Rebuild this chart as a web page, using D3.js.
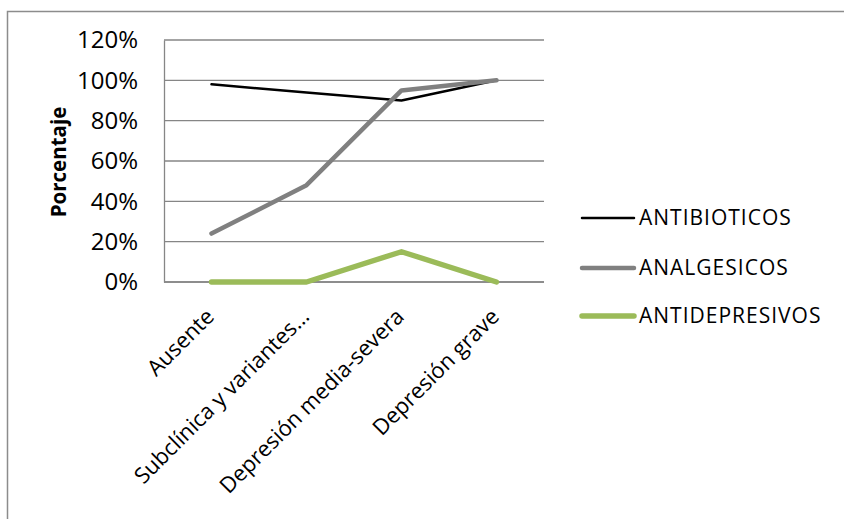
<!DOCTYPE html>
<html>
<head>
<meta charset="utf-8">
<script src="https://cdn.jsdelivr.net/npm/d3@7"></script>
<style>
  html, body { margin: 0; padding: 0; background: #fff; }
  svg { display: block; font-family: "Open Sans", sans-serif; }
</style>
</head>
<body>
<svg id="chart" width="844" height="519"></svg>
<script>
// Categories of depression level
const categories = ["Ausente", "Subclínica y variantes…", "Depresión media-severa", "Depresión grave"];
// Share of patients using each drug group (fraction)
const antibioticos = [0.98, 0.94, 0.90, 1.00];
const analgesicos = [0.24, 0.48, 0.95, 1.00];
const antidepresivos = [0.00, 0.00, 0.15, 0.00];
const seriesNames = ["ANTIBIOTICOS", "ANALGESICOS", "ANTIDEPRESIVOS"];
const yTicks = [0, 0.2, 0.4, 0.6, 0.8, 1.0, 1.2];

const series = [
  { name: seriesNames[0], values: antibioticos, color: "#000000", width: 2.5 },
  { name: seriesNames[1], values: analgesicos, color: "#808080", width: 4.5 },
  { name: seriesNames[2], values: antidepresivos, color: "#9BBB59", width: 5.5 }
];

const svg = d3.select("#chart");

// Outer chart frame
svg.append("rect")
  .attr("x", 7.5).attr("y", 11.5)
  .attr("width", 900).attr("height", 600)
  .attr("fill", "none").attr("stroke", "#8c8c8c").attr("stroke-width", 1.5);

const plot = { left: 164, right: 544, top: 40, bottom: 282 };

const x = d3.scaleBand().domain(categories).range([plot.left, plot.right]);
const y = d3.scaleLinear().domain([0, 1.2]).range([plot.bottom, plot.top]);

// Horizontal gridlines
svg.append("g")
  .selectAll("line").data(yTicks).join("line")
  .attr("x1", plot.left).attr("x2", plot.right)
  .attr("y1", d => y(d)).attr("y2", d => y(d))
  .attr("stroke", "#868686").attr("stroke-width", 1.3);

// Y axis
const yAxis = svg.append("g")
  .attr("transform", `translate(${plot.left},0)`)
  .call(d3.axisLeft(y).tickValues(yTicks).tickFormat(d3.format(".0%")).tickSize(0).tickPadding(26));
yAxis.select(".domain").attr("stroke", "#868686").attr("stroke-width", 1.3);
yAxis.selectAll("text").attr("font-size", 24).attr("fill", "#000")
  .attr("font-family", "'Open Sans', sans-serif");

// X axis baseline
svg.append("line")
  .attr("x1", plot.left).attr("x2", plot.right)
  .attr("y1", plot.bottom).attr("y2", plot.bottom)
  .attr("stroke", "#868686").attr("stroke-width", 1.3);

// Rotated category labels
svg.append("g").selectAll("text").data(categories).join("text")
  .attr("transform", d => `translate(${x(d) + x.bandwidth() / 2 + 4},${plot.bottom + 36}) rotate(-45)`)
  .attr("text-anchor", "end")
  .attr("font-size", 22)
  .attr("fill", "#000")
  .text(d => d);

// Y axis title
svg.append("text")
  .attr("transform", `translate(66,162) rotate(-90)`)
  .attr("text-anchor", "middle")
  .attr("font-size", 20.5)
  .attr("font-weight", "bold")
  .text("Porcentaje");

// Series lines
const line = d3.line()
  .x((d, i) => x(categories[i]) + x.bandwidth() / 2)
  .y(d => y(d));

svg.append("g").selectAll("path").data(series).join("path")
  .attr("d", d => line(d.values))
  .attr("fill", "none")
  .attr("stroke", d => d.color)
  .attr("stroke-width", d => d.width)
  .attr("stroke-linecap", "round")
  .attr("stroke-linejoin", "round");

// Legend
const legendY = [218, 268, 316];
const legend = svg.append("g").selectAll("g").data(series).join("g")
  .attr("transform", (d, i) => `translate(582,${legendY[i]})`);
legend.append("line")
  .attr("x1", 0).attr("x2", 52)
  .attr("stroke", d => d.color)
  .attr("stroke-width", d => d.width)
  .attr("stroke-linecap", "round");
legend.append("text")
  .attr("x", 57).attr("dy", "0.35em")
  .attr("font-size", 21)
  .attr("letter-spacing", 1)
  .attr("fill", "#000")
  .text(d => d.name);
</script>
</body>
</html>
